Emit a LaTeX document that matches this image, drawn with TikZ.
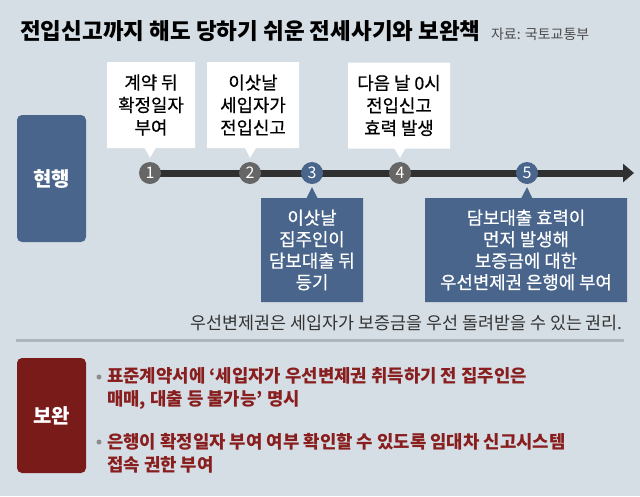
\documentclass[tikz,border=0pt]{standalone}
\usepackage{fontspec}
\setmainfont{Noto Sans CJK KR}
\newfontfamily\boxfont[FakeBold=0.6]{Noto Sans CJK KR}
\usetikzlibrary{backgrounds,shapes.callouts,arrows.meta}

\definecolor{bgpaper}{RGB}{214,222,229}
\definecolor{nowblue}{RGB}{73,101,140}
\definecolor{stepgray}{RGB}{102,102,102}
\definecolor{fixred}{RGB}{120,27,25}
\definecolor{fixtext}{RGB}{136,30,30}
\definecolor{linedark}{RGB}{48,48,48}
\definecolor{rulegray}{RGB}{172,181,189}

\tikzset{
  tag/.style={rectangle, rounded corners=5pt, minimum width=69pt, inner sep=0pt,
    text=white, font=\bfseries\fontsize{20}{24}\selectfont},
  numdot/.style={circle, minimum size=22pt, inner sep=0pt, text=white,
    font=\fontsize{16}{16}\selectfont},
  abovebox/.style={rectangle callout, fill=white, inner sep=0pt, align=center,
    minimum height=86pt, callout pointer width=11pt,
    font=\boxfont\fontsize{17.8}{22.5}\selectfont},
  belowbox/.style={rectangle callout, fill=nowblue, text=white, inner sep=0pt,
    align=center, minimum height=104pt, callout pointer width=11pt,
    font=\boxfont\fontsize{17.8}{21.5}\selectfont},
  timeline/.style={linedark, line width=7pt, -{Triangle[length=11pt,width=18pt]}},
  bullettext/.style={anchor=west, align=left, inner sep=0pt, text=fixtext,
    font=\bfseries\fontsize{17.8}{23}\selectfont},
  bulletdot/.style={circle, fill=black!45, minimum size=5pt, inner sep=0pt},
}

\begin{document}
\begin{tikzpicture}[x=1pt, y=-1pt]
  % Paper
  \begin{scope}[on background layer]
    \fill[bgpaper] (0,0) rectangle (640,496);
  \end{scope}

  % Title and source
  \node[anchor=west, inner sep=0pt, font=\bfseries\fontsize{22.5}{26}\selectfont] (title) at (20,31)
    {전입신고까지 해도 당하기 쉬운 전세사기와 보완책};
  \node[anchor=base west, inner sep=0pt, text=black!70, font=\fontsize{14}{16}\selectfont] (source)
    at ([xshift=10pt]title.base east) {자료: 국토교통부};

  % Row labels
  \node[tag, fill=nowblue, minimum height=127pt] (now) at (51.5,178.5) {현행};
  \node[tag, fill=fixred, minimum height=115pt] (fix) at (51.5,415.5) {보완};

  % Timeline steps
  \node[numdot, fill=stepgray] (c1) at (150,173) {1};
  \node[numdot, fill=stepgray] (c2) at (250,173) {2};
  \node[numdot, fill=nowblue] (c3) at (312,173) {3};
  \node[numdot, fill=stepgray] (c4) at (400,173) {4};
  \node[numdot, fill=nowblue] (c5) at (527,173) {5};
  \coordinate (tip) at (634,173);
  \begin{scope}[on background layer]
    \draw[timeline] (c1.center) -- (tip);
  \end{scope}

  % Tenant side, above the line
  \node[abovebox, minimum width=88pt, callout absolute pointer={([yshift=4pt]c1.north)}] (s1)
    at (151,105) {계약 뒤\\확정일자\\부여};
  \node[abovebox, minimum width=92pt, callout absolute pointer={([yshift=4pt]c2.north)}] (s2)
    at (253,105) {이삿날\\세입자가\\전입신고};
  \node[abovebox, minimum width=102pt, callout absolute pointer={([yshift=4pt]c4.north)}] (s4)
    at (399,105.5) {다음 날 0시\\전입신고\\효력 발생};

  % Landlord and bank side, below the line
  \node[belowbox, minimum width=102pt, callout absolute pointer={([yshift=-3pt]c3.south)}] (s3)
    at (312,250) {이삿날\\집주인이\\담보대출 뒤\\등기};
  \node[belowbox, minimum width=202pt, callout absolute pointer={([yshift=-3pt]c5.south)}] (s5)
    at (526,250) {담보대출 효력이\\먼저 발생해\\보증금에 대한\\우선변제권 은행에 부여};

  % Footnote and rule
  \node[anchor=east, inner sep=0pt, text=black!80, font=\fontsize{17.4}{19}\selectfont] (note)
    at (623,323) {우선변제권은 세입자가 보증금을 우선 돌려받을 수 있는 권리.};
  \coordinate (ruleL) at (16,340);
  \coordinate (ruleR) at (624,340);
  \draw[rulegray, line width=3pt] (ruleL) -- (ruleR);

  % Remedies
  \node[bulletdot] (d1) at (99,377) {};
  \node[bullettext] (b1) at (107,388.5)
    {표준계약서에 ‘세입자가 우선변제권 취득하기 전 집주인은\\매매, 대출 등 불가능’ 명시};
  \node[bulletdot] (d2) at (99,442) {};
  \node[bullettext] (b2) at (107,453.5)
    {은행이 확정일자 부여 여부 확인할 수 있도록 임대차 신고시스템\\접속 권한 부여};
\end{tikzpicture}
\end{document}
